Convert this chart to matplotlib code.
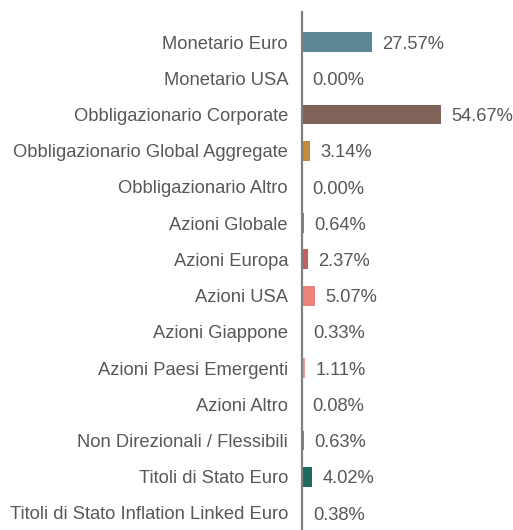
import matplotlib
matplotlib.use("Agg")
import matplotlib.pyplot as plt

categories = [
    "Monetario Euro",
    "Monetario USA",
    "Obbligazionario Corporate",
    "Obbligazionario Global Aggregate",
    "Obbligazionario Altro",
    "Azioni Globale",
    "Azioni Europa",
    "Azioni USA",
    "Azioni Giappone",
    "Azioni Paesi Emergenti",
    "Azioni Altro",
    "Non Direzionali / Flessibili",
    "Titoli di Stato Euro",
    "Titoli di Stato Inflation Linked Euro",
]
values = [27.57, 0.00, 54.67, 3.14, 0.00, 0.64, 2.37, 5.07, 0.33, 1.11, 0.08, 0.63, 4.02, 0.38]
colors = [
    "#5b8794", "#808080", "#7f6358", "#c48b3b", "#808080", "#808080", "#c2605f",
    "#ec837a", "#808080", "#e39d9d", "#808080", "#808080", "#1d6b5e", "#808080",
]

plt.rcParams["font.family"] = ["Liberation Sans", "DejaVu Sans"]
text_color = "#585858"
fs = 13.2

fig = plt.figure(figsize=(5.13, 5.30), dpi=100)
ax = fig.add_axes([302 / 513, 0, 211 / 513, 518 / 530])

ypos = list(range(len(categories)))
ax.barh(ypos, values, height=0.55, color=colors, zorder=2)

for y, v in zip(ypos, values):
    ax.annotate(f"{v:.2f}%", xy=(v, y), xytext=(7.5, -1.5), textcoords="offset points",
                ha="left", va="center", fontsize=fs, color=text_color)

ax.set_xlim(0, 83)
ax.set_ylim(13.47, -0.83)
ax.set_yticks(ypos)
ax.set_yticklabels(categories, fontsize=fs, color=text_color)
for lbl in ax.get_yticklabels():
    lbl.set_verticalalignment("center_baseline")
ax.tick_params(axis="y", length=0, pad=10)
ax.set_xticks([])

for side in ("top", "right", "bottom"):
    ax.spines[side].set_visible(False)
ax.spines["left"].set_color("#808080")
ax.spines["left"].set_linewidth(1.6)
ax.spines["left"].set_zorder(3)

fig.savefig("out.png", dpi=100)
